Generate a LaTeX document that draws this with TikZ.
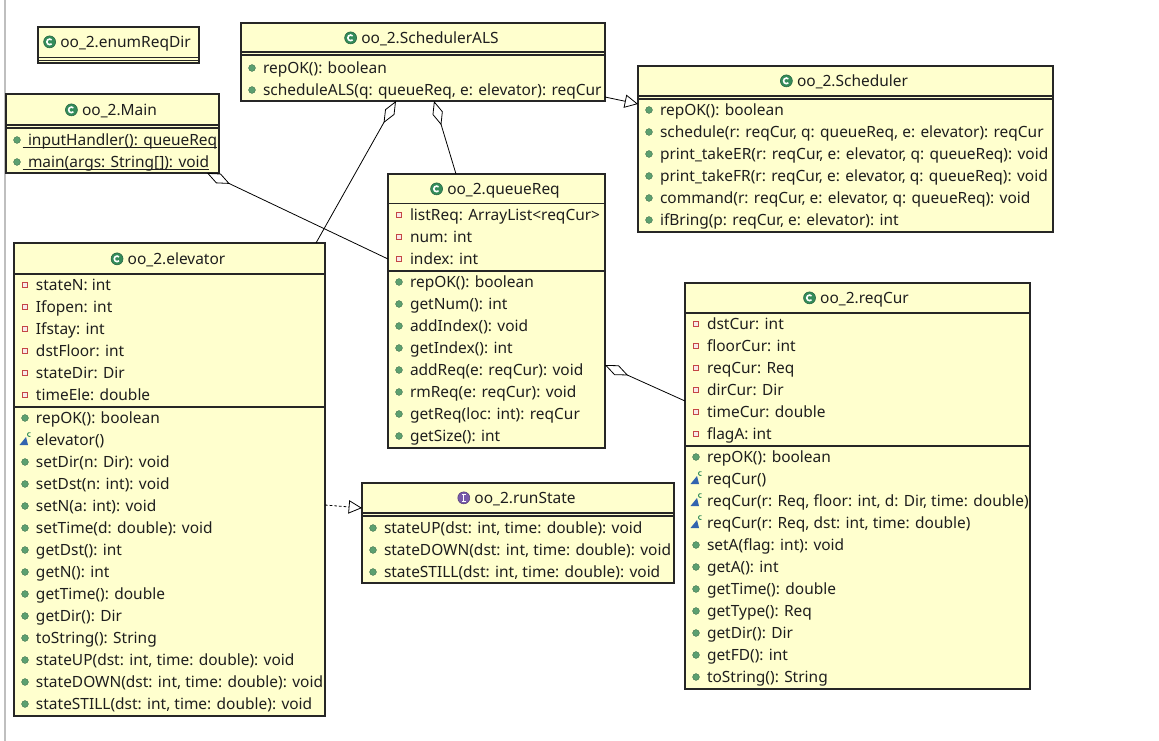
\documentclass[tikz,border=0pt]{standalone}
\usepackage{fontspec}
\setmainfont{Noto Sans}
\usetikzlibrary{arrows.meta,fit}
\definecolor{boxfill}{RGB}{255,255,206}
\definecolor{iconG}{RGB}{52,140,90}
\definecolor{dotG}{RGB}{92,160,112}
\definecolor{attrR}{RGB}{196,70,70}
\definecolor{consB}{RGB}{50,100,175}
\definecolor{ifaceP}{RGB}{120,90,170}
\definecolor{txt}{RGB}{30,30,30}
\newcounter{nn}
\tikzset{
  cbox/.style={draw=black!85, line width=0.8pt, fill=boxfill, inner sep=0pt, outer sep=0pt},
  sepline/.style={draw=black!85, line width=0.8pt},
  rowtxt/.style={anchor=base west, inner sep=0pt, outer sep=0pt, font=\fontsize{11.6}{13}\selectfont, text=txt},
  titletxt/.style={anchor=base, inner sep=0pt, outer sep=0pt, font=\fontsize{11.6}{13}\selectfont, text=txt},
  conn/.style={line width=0.6pt, draw=black},
  agg/.style={conn, {Diamond[open, length=19pt, width=8pt, line width=0.6pt]}-},
  gen/.style={conn, -{Triangle[open, length=10pt, width=10pt, line width=0.6pt]}},
  real/.style={gen, dash pattern=on 2pt off 1.5pt},
}
% x = left edge of box, y = row centre
\newcommand\mrow[3]{\stepcounter{nn}%
  \filldraw[fill=dotG, draw=dotG!70!black, line width=0.3pt] (#1+11,#2) circle (3.4);
  \node[rowtxt] (m\arabic{nn}) at (#1+22,#2+5.2) {#3};}
\newcommand\srow[3]{\stepcounter{nn}%
  \filldraw[fill=dotG, draw=dotG!70!black, line width=0.3pt] (#1+11,#2) circle (3.4);
  \node[rowtxt] (m\arabic{nn}) at (#1+22,#2+5.2) {#3};
  \draw[txt, line width=0.6pt] ([xshift=-4pt,yshift=-1.6pt]m\arabic{nn}.base west) -- ([yshift=-1.6pt]m\arabic{nn}.base east);}
\newcommand\arow[3]{\stepcounter{nn}%
  \filldraw[fill=attrR!12, draw=attrR, line width=0.6pt] (#1+8.3,#2-2.7) rectangle (#1+13.7,#2+2.7);
  \node[rowtxt] (m\arabic{nn}) at (#1+22,#2+5.2) {#3};}
\newcommand\crow[3]{\stepcounter{nn}%
  \fill[consB] (#1+5.5,#2+5) -- (#1+14,#2+5) -- (#1+12,#2-3) -- cycle;
  \draw[iconG, line width=0.7pt] (#1+15.5,#2-5.5) ++(60:2) arc (60:300:2);
  \node[rowtxt] (m\arabic{nn}) at (#1+22,#2+5.2) {#3};}
% name, centre x, y, text
\newcommand\ctitle[4]{%
  \node[titletxt] (#1) at (#2+7,#3+5.2) {#4};
  \path ([xshift=-8pt,yshift=4pt]#1.base west) coordinate (#1ic);
  \filldraw[fill=iconG, draw=iconG!70!black, line width=0.4pt] (#1ic) circle (6);
  \draw[white, line width=1.2pt] (#1ic) ++(45:2.8) arc (45:315:2.8);}
\newcommand\ititle[4]{%
  \node[titletxt] (#1) at (#2+7,#3+5.2) {#4};
  \path ([xshift=-8pt,yshift=4pt]#1.base west) coordinate (#1ic);
  \filldraw[fill=ifaceP, draw=ifaceP!70!black, line width=0.4pt] (#1ic) circle (6);
  \draw[white, line width=1pt] ([yshift=2.5pt]#1ic) -- ([yshift=-2.5pt]#1ic);
  \draw[white, line width=0.8pt] ([yshift=2.5pt,xshift=-1.4pt]#1ic) -- ([yshift=2.5pt,xshift=1.4pt]#1ic);
  \draw[white, line width=0.8pt] ([yshift=-2.5pt,xshift=-1.4pt]#1ic) -- ([yshift=-2.5pt,xshift=1.4pt]#1ic);}
\begin{document}
\begin{tikzpicture}[x=0.75pt,y=-0.75pt]
\useasboundingbox (0,0) rectangle (1159,741);
\fill[white] (0,0) rectangle (1159,741);
\draw[black!25, line width=0.8pt] (5,0) -- (5,741);

% ---------- enumReqDir ----------
\node[cbox, fit={(38,27) (199,63)}] (enumb) {};
\draw[sepline] (38,57.5) -- (199,57.5) (38,60.3) -- (199,60.3);
\ctitle{enumt}{118.5}{42}{oo\_2.enumReqDir}

% ---------- SchedulerALS ----------
\node[cbox, fit={(241,23) (605,101)}] (sals) {};
\draw[sepline] (241,52) -- (605,52) (241,55) -- (605,55);
\ctitle{salst}{423}{38}{oo\_2.SchedulerALS}
\mrow{241}{68}{repOK(): boolean}
\mrow{241}{90}{scheduleALS(q: queueReq, e: elevator): reqCur}

% ---------- Main ----------
\node[cbox, fit={(6,94) (219,173)}] (mainb) {};
\draw[sepline] (6,125) -- (219,125) (6,128) -- (219,128);
\ctitle{maint}{112.5}{110}{oo\_2.Main}
\srow{6}{140}{inputHandler(): queueReq}
\srow{6}{162}{main(args: String[]): void}

% ---------- Scheduler ----------
\node[cbox, fit={(638,66) (1053,232)}] (sched) {};
\draw[sepline] (638,96) -- (1053,96) (638,99) -- (1053,99);
\ctitle{schedt}{845.5}{81}{oo\_2.Scheduler}
\mrow{638}{110}{repOK(): boolean}
\mrow{638}{132}{schedule(r: reqCur, q: queueReq, e: elevator): reqCur}
\mrow{638}{154}{print\_takeER(r: reqCur, e: elevator, q: queueReq): void}
\mrow{638}{176}{print\_takeFR(r: reqCur, e: elevator, q: queueReq): void}
\mrow{638}{198}{command(r: reqCur, e: elevator, q: queueReq): void}
\mrow{638}{220}{ifBring(p: reqCur, e: elevator): int}

% ---------- queueReq ----------
\node[cbox, fit={(388,174) (605,448)}] (qr) {};
\draw[sepline] (388,203.5) -- (605,203.5) (388,271) -- (605,271);
\ctitle{qrt}{496.5}{189}{oo\_2.queueReq}
\arow{388}{215}{listReq: ArrayList<reqCur>}
\arow{388}{237}{num: int}
\arow{388}{259}{index: int}
\mrow{388}{282}{repOK(): boolean}
\mrow{388}{304}{getNum(): int}
\mrow{388}{326}{addIndex(): void}
\mrow{388}{348}{getIndex(): int}
\mrow{388}{370}{addReq(e: reqCur): void}
\mrow{388}{392}{rmReq(e: reqCur): void}
\mrow{388}{414}{getReq(loc: int): reqCur}
\mrow{388}{436}{getSize(): int}

% ---------- elevator ----------
\node[cbox, fit={(14,243) (325,716)}] (elev) {};
\draw[sepline] (14,274) -- (325,274) (14,407) -- (325,407);
\ctitle{elevt}{169.5}{259}{oo\_2.elevator}
\arow{14}{285}{stateN: int}
\arow{14}{307}{Ifopen: int}
\arow{14}{329}{Ifstay: int}
\arow{14}{351}{dstFloor: int}
\arow{14}{373}{stateDir: Dir}
\arow{14}{395}{timeEle: double}
\mrow{14}{418}{repOK(): boolean}
\crow{14}{440}{elevator()}
\mrow{14}{462}{setDir(n: Dir): void}
\mrow{14}{484}{setDst(n: int): void}
\mrow{14}{506}{setN(a: int): void}
\mrow{14}{528}{setTime(d: double): void}
\mrow{14}{550}{getDst(): int}
\mrow{14}{572}{getN(): int}
\mrow{14}{594}{getTime(): double}
\mrow{14}{616}{getDir(): Dir}
\mrow{14}{638}{toString(): String}
\mrow{14}{660}{stateUP(dst: int, time: double): void}
\mrow{14}{682}{stateDOWN(dst: int, time: double): void}
\mrow{14}{704}{stateSTILL(dst: int, time: double): void}

% ---------- runState ----------
\node[cbox, fit={(362,483) (674,583)}] (rs) {};
\draw[sepline] (362,513) -- (674,513) (362,516) -- (674,516);
\ititle{rst}{518}{498}{oo\_2.runState}
\mrow{362}{528}{stateUP(dst: int, time: double): void}
\mrow{362}{550}{stateDOWN(dst: int, time: double): void}
\mrow{362}{572}{stateSTILL(dst: int, time: double): void}

% ---------- reqCur ----------
\node[cbox, fit={(685,283) (1030,689)}] (rc) {};
\draw[sepline] (685,313) -- (1030,313) (685,446) -- (1030,446);
\ctitle{rct}{857.5}{298}{oo\_2.reqCur}
\arow{685}{324}{dstCur: int}
\arow{685}{346}{floorCur: int}
\arow{685}{368}{reqCur: Req}
\arow{685}{390}{dirCur: Dir}
\arow{685}{412}{timeCur: double}
\arow{685}{434}{flagA: int}
\mrow{685}{457}{repOK(): boolean}
\crow{685}{479}{reqCur()}
\crow{685}{501}{reqCur(r: Req, floor: int, d: Dir, time: double)}
\crow{685}{523}{reqCur(r: Req, dst: int, time: double)}
\mrow{685}{545}{setA(flag: int): void}
\mrow{685}{567}{getA(): int}
\mrow{685}{589}{getTime(): double}
\mrow{685}{611}{getType(): Req}
\mrow{685}{633}{getDir(): Dir}
\mrow{685}{655}{getFD(): int}
\mrow{685}{677}{toString(): String}

% ---------- connectors ----------
\draw[gen] ([yshift=3pt]sals.south east) -- ([yshift=-28.5pt]sched.north west);
\draw[agg] ([xshift=116.25pt]sals.south west) -- ([xshift=-6.75pt]elev.north east);
\draw[agg] ([xshift=144.75pt]sals.south west) -- ([xshift=51pt]qr.north west);
\draw[agg] ([xshift=-9pt]mainb.south east) -- ([yshift=-63.75pt]qr.north west);
\draw[agg] ([yshift=-143.25pt]qr.north east) -- ([yshift=-88.5pt]rc.north west);
\draw[real] ([yshift=-196.5pt]elev.north east) -- ([yshift=-18.75pt]rs.north west);
\end{tikzpicture}
\end{document}
